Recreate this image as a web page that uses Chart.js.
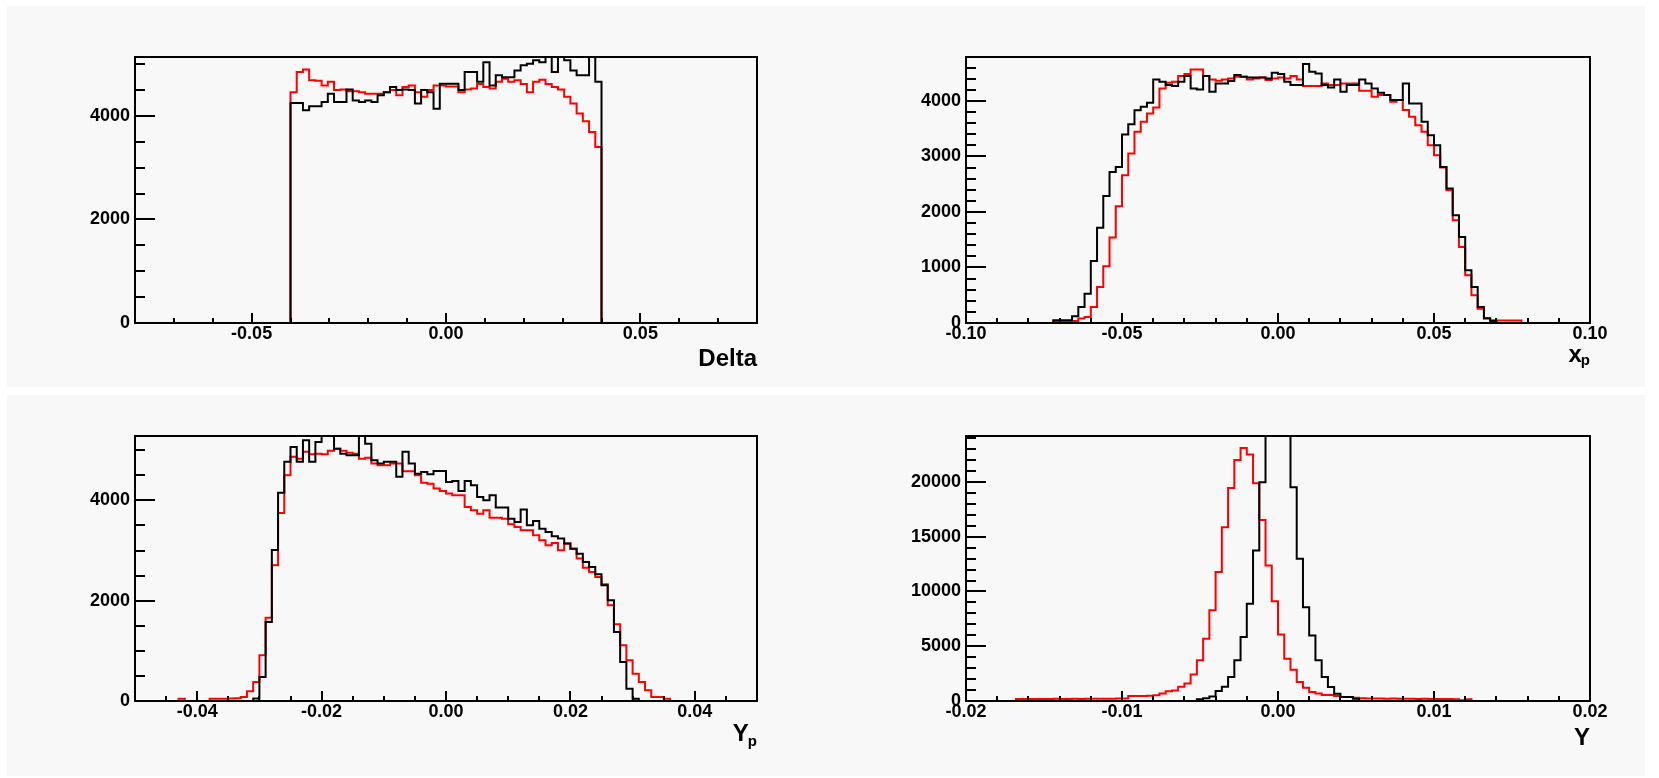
<!DOCTYPE html>
<html>
<head>
<meta charset="utf-8">
<title>Delta, x_p, Y_p, Y</title>
<script src="https://cdn.jsdelivr.net/npm/chart.js@4.4.1/dist/chart.umd.min.js"></script>
<style>
  html, body { margin: 0; padding: 0; background: #ffffff; }
  body { width: 1659px; height: 778px; position: relative; overflow: hidden; }
  .pad { position: absolute; background: #f8f8f8; }
  .pad canvas { display: block; }
</style>
</head>
<body>
<div class="pad" style="left:7px;top:6px;width:823px;height:381px"><canvas id="cDelta" width="823" height="381"></canvas></div>
<div class="pad" style="left:830px;top:6px;width:815px;height:381px"><canvas id="cXp" width="815" height="381"></canvas></div>
<div class="pad" style="left:7px;top:395px;width:823px;height:381px"><canvas id="cYp" width="823" height="381"></canvas></div>
<div class="pad" style="left:830px;top:395px;width:815px;height:381px"><canvas id="cY" width="815" height="381"></canvas></div>
<script>
// histogram contents, one value per bin, starting at the given low edge

// Delta : 0.0016 wide bins
const deltaBinW = 0.0016;
const deltaRedStart = -0.04;
const deltaRed = [4460, 4850, 4900, 4690, 4680, 4590, 4660, 4500, 4510, 4480,
  4480, 4460, 4430, 4430, 4430, 4460, 4500, 4400, 4560, 4590,
  4460, 4370, 4500, 4590, 4590, 4570, 4570, 4460, 4510, 4530,
  4620, 4560, 4530, 4660, 4720, 4660, 4690, 4620, 4460, 4660,
  4700, 4620, 4560, 4510, 4370, 4240, 4050, 3900, 3690, 3400];
const deltaBlackStart = -0.04;
const deltaBlack = [4250, 4250, 4110, 4190, 4190, 4270, 4430, 4270, 4270, 4510,
  4300, 4270, 4300, 4270, 4400, 4460, 4560, 4500, 4510, 4500,
  4240, 4500, 4460, 4140, 4625, 4625, 4625, 4500, 4850, 4850,
  4660, 5040, 4590, 4785, 4750, 4750, 4880, 4980, 5010, 5075,
  5040, 5300, 4850, 5250, 5075, 4880, 4785, 4785, 5300, 4660];
const deltaXTicks = [-0.05, 0, 0.05];
const deltaYTicks = [0, 2000, 4000];

// x_p : 0.002 wide bins
const xpBinW = 0.002;
const xpRedStart = -0.072;
const xpRed = [36, 36, 36, 36, 79, 108, 288, 649, 1021, 1539,
  2103, 2662, 3053, 3443, 3623, 3773, 3882, 4224, 4325, 4343,
  4446, 4482, 4566, 4566, 4446, 4386, 4362, 4386, 4404, 4434,
  4434, 4386, 4404, 4422, 4374, 4404, 4422, 4404, 4446, 4386,
  4266, 4266, 4266, 4314, 4284, 4284, 4314, 4314, 4314, 4182,
  4182, 4074, 4104, 4104, 3984, 4014, 3834, 3714, 3563, 3443,
  3203, 3023, 2801, 2391, 1850, 1370, 860, 500, 258, 90,
  50, 45, 45, 45, 45];
const xpBlackStart = -0.072;
const xpBlack = [50, 50, 50, 120, 288, 528, 1117, 1717, 2288, 2720,
  2810, 3393, 3580, 3832, 3892, 3964, 4386, 4344, 4284, 4266,
  4344, 4446, 4224, 4205, 4446, 4164, 4314, 4314, 4356, 4464,
  4434, 4422, 4422, 4422, 4404, 4506, 4482, 4344, 4284, 4284,
  4662, 4524, 4494, 4284, 4242, 4386, 4164, 4284, 4284, 4386,
  4314, 4224, 4146, 4104, 4014, 4014, 4314, 3954, 3954, 3623,
  3383, 3203, 2811, 2421, 1940, 1550, 950, 650, 288, 79,
  36];
const xpXTicks = [-0.1, -0.05, 0, 0.05, 0.1];
const xpYTicks = [0, 1000, 2000, 3000, 4000];

// Y_p : 0.001 wide bins
const ypBinW = 0.001;
const ypRedStart = -0.043;
const ypRed = [45, 0, 0, 0, 0, 45, 45, 45, 50, 55,
  80, 195, 380, 910, 1660, 2705, 3750, 4500, 4870, 4830,
  4970, 4920, 4930, 4920, 4990, 5030, 4990, 4950, 4930, 4830,
  4850, 4735, 4700, 4700, 4735, 4735, 4580, 4580, 4500, 4350,
  4334, 4235, 4188, 4135, 4102, 4102, 3869, 3802, 3736, 3802,
  3656, 3656, 3636, 3523, 3470, 3404, 3404, 3304, 3204, 3104,
  3151, 3005, 3138, 3038, 2839, 2659, 2573, 2473, 2330, 1908,
  1529, 1110, 811, 545, 379, 213, 80, 80, 47];
const ypBlackStart = -0.031;
const ypBlack = [50, 480, 1575, 3010, 4150, 4770, 5065, 4770, 5200, 4770,
  5165, 5350, 5350, 5030, 4930, 4900, 4900, 5350, 5130, 4800,
  4735, 4770, 4770, 4470, 4970, 4735, 4530, 4566, 4520, 4587,
  4587, 4367, 4387, 4188, 4387, 4301, 4068, 4002, 4102, 3856,
  3856, 3636, 3570, 3816, 3503, 3590, 3437, 3370, 3284, 3238,
  3138, 3038, 2938, 2772, 2672, 2526, 2307, 2008, 1376, 778,
  246, 47];
const ypXTicks = [-0.04, -0.02, 0, 0.02, 0.04];
const ypYTicks = [0, 2000, 4000];

// Y : 0.0004 wide bins
const yBinW = 0.0004;
const yRedStart = -0.0168;
const yRed = [180, 180, 190, 180, 190, 180, 200, 190, 180, 200,
  190, 200, 210, 200, 210, 200, 220, 230, 450, 450,
  460, 470, 520, 680, 900, 950, 1290, 1590, 2410, 3720,
  5690, 8280, 11770, 15870, 19460, 22010, 23100, 22500, 19880, 16540,
  12375, 9120, 6082, 3866, 2863, 1733, 1220, 820, 680, 540,
  540, 450, 360, 360, 300, 240, 230, 220, 220, 210,
  220, 200, 210, 200, 190, 200, 190, 180, 190, 180,
  170, 60, 160];
const yBlackStart = -0.0052;
const yBlack = [150, 250, 400, 910, 1290, 2200, 3720, 5840, 8880, 13740,
  19970, 26000, 28500, 27500, 25500, 19520, 12990, 8570, 5990, 3710,
  2190, 1280, 670, 365, 365, 200];
const yXTicks = [-0.02, -0.01, 0, 0.01, 0.02];
const yYTicks = [0, 5000, 10000, 15000, 20000];

// turn bin contents into outline points (stepped line)
function histPoints(start, w, counts) {
  const pts = [{ x: start, y: 0 }];
  counts.forEach((c, i) => pts.push({ x: start + i * w, y: c }));
  pts.push({ x: start + counts.length * w, y: 0 });
  return pts;
}

// box = space kept for the axes: left = y axis width, bottom = x axis height
const panels = [
  { id: 'cDelta', box: { left: 128, top: 51, right: 73, bottom: 64 },
    xmin: -0.08, xmax: 0.08, xminor: 0.01, ymax: 5140, yminor: 500,
    xTicks: deltaXTicks, yTicks: deltaYTicks,
    title: 'Delta', sub: '', titleDy: 43, subDy: 0,
    black: histPoints(deltaBlackStart, deltaBinW, deltaBlack),
    red: histPoints(deltaRedStart, deltaBinW, deltaRed) },
  { id: 'cXp', box: { left: 136, top: 51, right: 55, bottom: 64 },
    xmin: -0.1, xmax: 0.1, xminor: 0.01, ymax: 4790, yminor: 200,
    xTicks: xpXTicks, yTicks: xpYTicks,
    title: 'x', sub: 'p', titleDy: 39, subDy: 42,
    black: histPoints(xpBlackStart, xpBinW, xpBlack),
    red: histPoints(xpRedStart, xpBinW, xpRed) },
  { id: 'cYp', box: { left: 128, top: 41, right: 73, bottom: 75 },
    xmin: -0.05, xmax: 0.05, xminor: 0.005, ymax: 5284, yminor: 500,
    xTicks: ypXTicks, yTicks: ypYTicks,
    title: 'Y', sub: 'p', titleDy: 40, subDy: 45,
    black: histPoints(ypBlackStart, ypBinW, ypBlack),
    red: histPoints(ypRedStart, ypBinW, ypRed) },
  { id: 'cY', box: { left: 136, top: 41, right: 55, bottom: 75 },
    xmin: -0.02, xmax: 0.02, xminor: 0.002, ymax: 24200, yminor: 1000,
    xTicks: yXTicks, yTicks: yYTicks,
    title: 'Y', sub: '', titleDy: 44, subDy: 0,
    black: histPoints(yBlackStart, yBinW, yBlack),
    red: histPoints(yRedStart, yBinW, yRed) }
];

const FONT = '"Liberation Sans", Arial, Helvetica, sans-serif';

function isMajor(v, list) {
  return list.some(t => Math.abs(t - v) < 1e-9 * Math.max(1, Math.abs(t)) + 1e-9);
}

// frame, inward tick marks and axis title, ROOT style
function framePlugin(p) {
  return {
    id: 'rootFrame',
    afterDatasetsDraw(chart) {
      const ctx = chart.ctx;
      const a = chart.chartArea;
      const xs = chart.scales.x, ys = chart.scales.y;
      ctx.save();
      ctx.strokeStyle = '#000';
      ctx.lineWidth = 2;
      ctx.strokeRect(a.left, a.top, a.right - a.left, a.bottom - a.top);

      ctx.beginPath();
      for (let k = Math.ceil(p.xmin / p.xminor - 1e-6); k <= Math.floor(p.xmax / p.xminor + 1e-6); k++) {
        const v = k * p.xminor;
        const px = Math.round(xs.getPixelForValue(v));
        const len = isMajor(v, p.xTicks) ? 10 : 5;
        ctx.moveTo(px, a.bottom);
        ctx.lineTo(px, a.bottom - len);
      }
      for (let k = 0; k <= Math.floor(p.ymax / p.yminor); k++) {
        const v = k * p.yminor;
        const py = Math.round(ys.getPixelForValue(v));
        const len = isMajor(v, p.yTicks) ? 20 : 10;
        ctx.moveTo(a.left, py);
        ctx.lineTo(a.left + len, py);
      }
      ctx.stroke();

      ctx.fillStyle = '#000';
      ctx.textAlign = 'right';
      ctx.textBaseline = 'alphabetic';
      let right = a.right;
      if (p.sub) {
        ctx.font = 'bold 15px ' + FONT;
        ctx.fillText(p.sub, right, a.bottom + p.subDy);
        right -= ctx.measureText(p.sub).width - 1;
      }
      ctx.font = 'bold 24px ' + FONT;
      ctx.fillText(p.title, right, a.bottom + p.titleDy);
      ctx.restore();
    }
  };
}

const tickFont = { family: FONT, size: 18, weight: 'bold' };

panels.forEach(p => {
  new Chart(document.getElementById(p.id), {
    type: 'line',
    data: {
      datasets: [
        { data: p.black, borderColor: '#000000', borderWidth: 2, stepped: true,
          pointRadius: 0, fill: false, tension: 0 },
        { data: p.red, borderColor: '#ff0000', borderWidth: 2, stepped: true,
          pointRadius: 0, fill: false, tension: 0 }
      ]
    },
    options: {
      responsive: false,
      animation: false,
      events: [],
      layout: { padding: { left: 0, top: p.box.top, right: p.box.right, bottom: 0 } },
      plugins: { legend: { display: false }, tooltip: { enabled: false } },
      scales: {
        x: {
          type: 'linear', min: p.xmin, max: p.xmax,
          afterBuildTicks: s => { s.ticks = p.xTicks.map(v => ({ value: v })); },
          afterFit: s => { s.height = p.box.bottom; },
          grid: { display: false, drawTicks: false },
          border: { display: false },
          ticks: {
            autoSkip: false, maxRotation: 0,
            padding: 0, color: '#000', font: tickFont,
            callback: v => v.toFixed(2)
          }
        },
        y: {
          type: 'linear', min: 0, max: p.ymax,
          afterBuildTicks: s => { s.ticks = p.yTicks.map(v => ({ value: v })); },
          afterFit: s => { s.width = p.box.left; },
          grid: { display: false, drawTicks: false },
          border: { display: false },
          ticks: {
            autoSkip: false,
            padding: 5, color: '#000', font: tickFont,
            callback: v => String(v)
          }
        }
      }
    },
    plugins: [framePlugin(p)]
  });
});
</script>
</body>
</html>
